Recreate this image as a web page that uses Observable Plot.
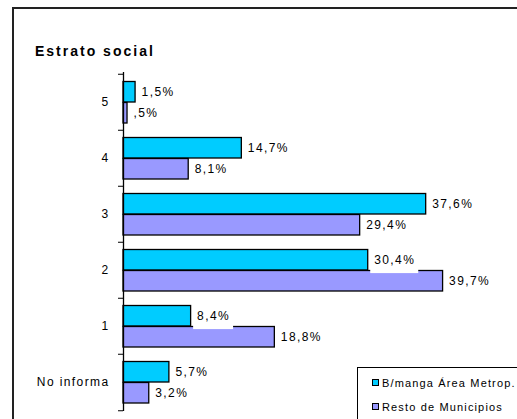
<!DOCTYPE html>
<html>
<head>
<meta charset="utf-8">
<script src="https://cdn.jsdelivr.net/npm/d3@7"></script>
<script src="https://cdn.jsdelivr.net/npm/@observablehq/plot@0.6"></script>
<style>
  html, body { margin: 0; padding: 0; background: #fff; }
  #wrap { position: relative; width: 517px; height: 419px; overflow: hidden; font-family: "Liberation Sans", Arial, sans-serif; }
  #frame { position: absolute; left: 12px; top: 7px; width: 600px; height: 500px; border: 2px solid #222; }
  #title { position: absolute; left: 35px; top: 43px; font-size: 14px; font-weight: bold; letter-spacing: 2px; color: #000; }
  #chart { position: absolute; left: 0; top: 0; }
  #legend { position: absolute; left: 357px; top: 367px; width: 200px; height: 100px; border: 1px solid #000; background: #fff; font-size: 11px; letter-spacing: 1.15px; color: #000; }
  .item { position: absolute; left: 14px; white-space: nowrap; }
  .sw { display: inline-block; width: 5px; height: 5px; border: 1px solid #000; margin-right: 3px; vertical-align: 1px; }
</style>
</head>
<body>
<div id="wrap">
  <div id="frame"></div>
  <div id="chart"></div>
  <div id="title">Estrato social</div>
  <div id="legend"></div>
</div>
<script>
const categories = ["5", "4", "3", "2", "1", "No informa"];
const series = ["B/manga Área Metrop.", "Resto de Municipios"];
const metro = [1.5, 14.7, 37.6, 30.4, 8.4, 5.7];
const resto = [0.5, 8.1, 29.4, 39.7, 18.8, 3.2];
const colors = ["#00CCFF", "#9999FF"];

const W = 517, H = 419, mt = 72, mb = 8, ml = 123, mr = 72;
const step = (H - mt - mb) / categories.length;

const rows = [];
categories.forEach((c, i) => {
  rows.push({cat: c, series: series[0], value: metro[i]});
  rows.push({cat: c, series: series[1], value: resto[i]});
});
const fmt = v => { let s = v.toFixed(1).replace(".", ","); if (s.startsWith("0,")) s = s.slice(1); return s + "%"; };

const barTop = 7.5, barH = 21;
const s0 = rows.filter(d => d.series === series[0]);
const s1 = rows.filter(d => d.series === series[1]);

const chart = Plot.plot({
  width: W, height: H,
  marginTop: mt, marginBottom: mb, marginLeft: ml, marginRight: mr,
  style: {background: "transparent", fontFamily: "Liberation Sans, Arial, sans-serif", letterSpacing: "1.4px", color: "#000"},
  x: {domain: [0, 40], axis: null},
  y: {domain: categories, padding: 0},
  color: {domain: series, range: colors},
  marks: [
    Plot.barX(s0, {x: "value", y: "cat", fill: "series", stroke: "#000", strokeWidth: 1.3, insetTop: barTop, insetBottom: step - barTop - barH}),
    Plot.barX(s1, {x: "value", y: "cat", fill: "series", stroke: "#000", strokeWidth: 1.3, insetTop: barTop + barH, insetBottom: step - barTop - 2 * barH}),
    Plot.text(s0, {x: "value", y: "cat", text: d => fmt(d.value), textAnchor: "start", dx: 6, dy: barTop + barH / 2 - step / 2, fontSize: 12, fill: "#000"}),
    Plot.text(s1, {x: "value", y: "cat", text: d => fmt(d.value), textAnchor: "start", dx: 6, dy: barTop + 1.5 * barH - step / 2, fontSize: 12, fill: "#000"}),
    Plot.ruleX([0], {stroke: "#000", strokeWidth: 1.3}),
    Plot.axisY({tickSize: 0, tickPadding: 14, fontSize: 12, label: null}),
    Plot.axisY({tickSize: 5, tickFormat: () => "", label: null, dy: -step / 2, stroke: "#000"}),
    Plot.axisY([categories[categories.length - 1]], {tickSize: 5, tickFormat: () => "", label: null, dy: step / 2, stroke: "#000"})
  ]
});
document.getElementById("chart").appendChild(chart);

// white label background boxes behind the first series' value labels (as in the original)
const textGroups = chart.querySelectorAll('g[aria-label="text"]');
if (textGroups.length) {
  const g = textGroups[0];
  g.querySelectorAll("text").forEach(t => {
    const b = t.getBBox();
    const r = document.createElementNS("http://www.w3.org/2000/svg", "rect");
    r.setAttribute("x", b.x - 4);
    r.setAttribute("y", b.y - 2);
    r.setAttribute("width", b.width + 7);
    r.setAttribute("height", b.height + 8);
    r.setAttribute("fill", "#fff");
    r.setAttribute("stroke", "none");
    const tr = t.getAttribute("transform");
    if (tr) r.setAttribute("transform", tr);
    g.insertBefore(r, t);
  });
}

const legend = document.getElementById("legend");
series.forEach((s, i) => {
  const it = document.createElement("div");
  it.className = "item";
  it.style.top = (9 + i * 24) + "px";
  it.innerHTML = `<span class="sw" style="background:${colors[i]}"></span>${s}`;
  legend.appendChild(it);
});
</script>
</body>
</html>
